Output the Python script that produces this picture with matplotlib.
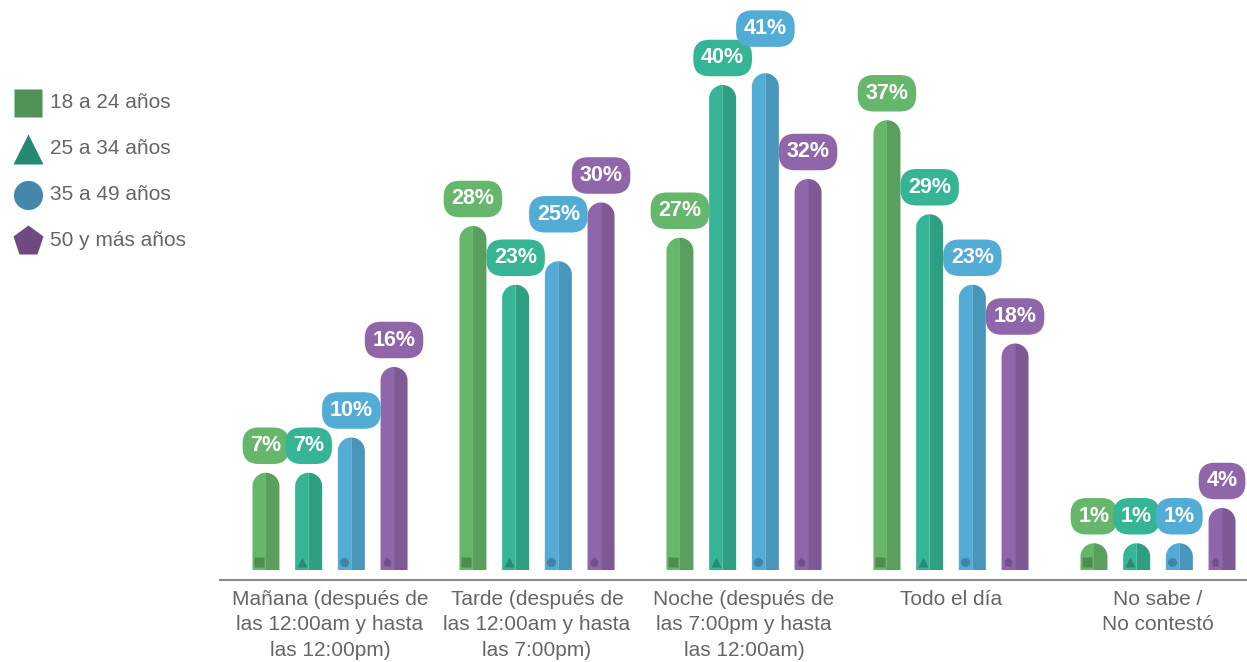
import numpy as np
import matplotlib
matplotlib.use("Agg")
import matplotlib.pyplot as plt
from matplotlib.lines import Line2D

plt.rcParams['font.family'] = ['Liberation Sans', 'DejaVu Sans']

categorias = ["Mañana (después de\nlas 12:00am y hasta\nlas 12:00pm)",
              "Tarde (después de\nlas 12:00am y hasta\nlas 7:00pm)",
              "Noche (después de\nlas 7:00pm y hasta\nlas 12:00am)",
              "Todo el día",
              "No sabe /\nNo contestó"]
grupos = ["18 a 24 años", "25 a 34 años", "35 a 49 años", "50 y más años"]

v_18_24 = [7, 28, 27, 37, 1]
v_25_34 = [7, 23, 40, 29, 1]
v_35_49 = [10, 25, 41, 23, 1]
v_50_mas = [16, 30, 32, 18, 4]
valores = [v_18_24, v_25_34, v_35_49, v_50_mas]

# colores: claro (mitad izq.), oscuro (mitad der.), marcador, leyenda
claro = ["#66b76b", "#35b596", "#53acd6", "#9066aa"]
oscuro = ["#5a9f5d", "#2f9f84", "#4896bc", "#7f5896"]
marca = ["#4e8c51", "#288a70", "#3f85a8", "#70508a"]
leyenda = ["#4f9455", "#258a72", "#4487a8", "#6f4a80"]
simbolos = ["s", "^", "o", "p"]

W, H = 1247, 662
PX = 11.75            # pixeles por punto porcentual
BASE = 15 / PX        # altura minima de la barra
GAP = 207.0           # pixeles entre grupos
bw = 27 / GAP         # ancho de barra
paso = 42.7 / GAP     # separacion entre barras
cap = 13.5 / PX       # alto del remate redondo

fig = plt.figure(figsize=(W / 100, H / 100), dpi=100)
ax = fig.add_axes([220 / W, (H - 580) / H, (W - 220) / W, 580 / H])
ax.set_xlim(-110 / GAP, (W - 220 - 110) / GAP)
ax.set_ylim(-10 / PX, 570 / PX)

ang_izq = np.linspace(np.pi, np.pi / 2, 30)
ang_der = np.linspace(np.pi / 2, 0, 30)


def barra(x, v, c1, c2):
    top = v + BASE
    yc = top - cap
    r = bw / 2
    xs = np.r_[x - r, x + r * np.cos(ang_izq), x]
    ys = np.r_[0, yc + cap * np.sin(ang_izq), 0]
    ax.fill(xs, ys, color=c1, lw=0)
    xs = np.r_[x, x + r * np.cos(ang_der), x + r]
    ys = np.r_[0, yc + cap * np.sin(ang_der), 0]
    ax.fill(xs, ys, color=c2, lw=0)
    return top


# ajustes verticales de etiquetas que se solapan
subir = {(2, 2): 1.5, (1, 2): 1.7}

for s, serie in enumerate(valores):
    for g, v in enumerate(serie):
        x = g + (s - 1.5) * paso
        top = barra(x, v, claro[s], oscuro[s])
        ax.plot(x - 7 / GAP, 8 / PX, marker=simbolos[s], ms=6.5,
                color=marca[s], mec='none')
        ax.text(x, top + 27 / PX + subir.get((g, s), 0), f"{v}%",
                ha='center', va='center', color='white', fontsize=15.5,
                fontweight='bold', clip_on=False,
                bbox=dict(boxstyle='round,pad=0.36,rounding_size=0.75',
                          fc=claro[s], ec='none'))

for sp in ['top', 'right', 'left']:
    ax.spines[sp].set_visible(False)
ax.spines['bottom'].set_color('#8a8a8a')
ax.spines['bottom'].set_linewidth(1.5)
ax.set_yticks([])
ax.set_xticks(range(len(categorias)))
ax.set_xticklabels(categorias, fontsize=15, color='#666666',
                   linespacing=1.45, va='top')
ax.tick_params(axis='x', length=0, pad=7)

# leyenda con simbolos
for i, nombre in enumerate(grupos):
    yf = 1 - (103 + 46 * i) / H
    fig.add_artist(Line2D([28 / W], [yf], marker=simbolos[i],
                          ms=[20, 22, 21, 23][i], color=leyenda[i],
                          mec='none', transform=fig.transFigure))
    fig.text(50 / W, yf, nombre, fontsize=15, color='#666666',
             va='center', ha='left')

fig.savefig("out.png", dpi=100)
